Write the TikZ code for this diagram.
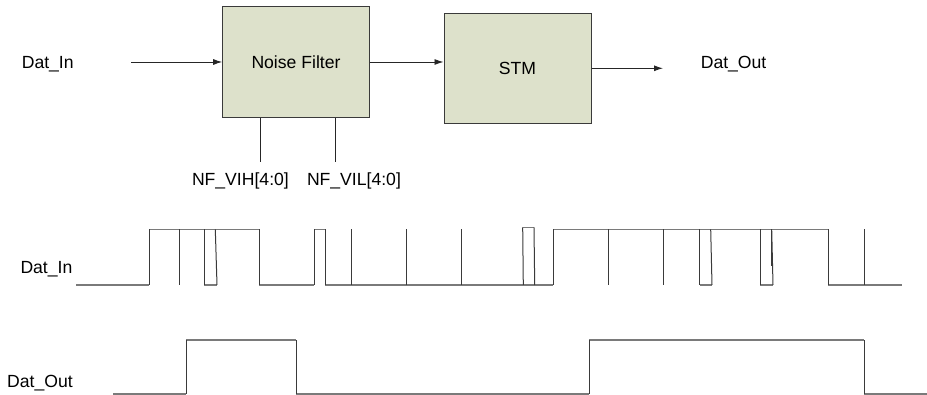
\documentclass[tikz,border=0pt]{standalone}
\usepackage{fontspec}
\setmainfont{Liberation Sans}
\usetikzlibrary{arrows.meta}
\definecolor{boxfill}{HTML}{DDE1CB}
\definecolor{boxline}{HTML}{3A3A3A}
\definecolor{wavegray}{HTML}{7A7A7A}
\definecolor{wavedark}{HTML}{3A3A3A}
\begin{document}
\begin{tikzpicture}[x=1pt,y=-1pt,
  blockbox/.style={draw=boxline,fill=boxfill,line width=1pt,inner sep=0pt,
    font=\fontsize{17.6}{20}\selectfont},
  lbl/.style={inner sep=0pt,font=\fontsize{17.6}{20}\selectfont},
  conn/.style={draw=black!85,line width=0.9pt},
  arr/.style={conn,-{Latex[length=9pt,width=6pt]}},
  hwave/.style={draw=wavegray,line width=1.4pt},
  vwave/.style={draw=wavedark,line width=1pt}]
\useasboundingbox (0,0) rectangle (927,395);

% blocks
\node[blockbox,minimum width=146.6pt,minimum height=110.6pt] (nf) at (296,62) {Noise Filter};
\node[blockbox,minimum width=147pt,minimum height=110pt] (stm) at (517.5,68.3) {STM};

% labels
\node[lbl,anchor=base west] (lin) at (21.6,68.4) {Dat\_In};
\node[lbl,anchor=base west] (lout) at (700.6,68.4) {Dat\_Out};
\node[lbl,anchor=base west] (lvih) at (191.8,185.5) {NF\_VIH[4:0]};
\node[lbl,anchor=base west] (lvil) at (306.8,185.5) {NF\_VIL[4:0]};

% connectors
\coordinate (inbeg) at (131,62);
\coordinate (outend) at (663,68.3);
\coordinate (pina) at (260.7,161.7);
\coordinate (pinb) at (335.7,161.7);
\draw[arr] (inbeg) -- (nf.west);
\draw[arr] (nf.east) -- (nf.east -| stm.west);
\draw[arr] (stm.east) -- (outend);
\draw[conn] (nf.south -| pina) -- (pina);
\draw[conn] (nf.south -| pinb) -- (pinb);

% waveform labels
\node[lbl,anchor=base west] (win) at (20.3,273.4) {Dat\_In};
\node[lbl,anchor=base west] (wout) at (7,387.4) {Dat\_Out};

% Dat_In waveform
\def\L{285}\def\H{229.3}
\draw[hwave] (76,\L) -- (149.3,\L);
\draw[hwave] (149.3,\H) -- (259.3,\H);
\draw[hwave] (259.3,\L) -- (314.3,\L);
\draw[hwave] (314.3,\H) -- (325.3,\H);
\draw[hwave] (325.3,\L) -- (553,\L);
\draw[hwave] (553,\H) -- (828,\H);
\draw[hwave] (828,\L) -- (901.7,\L);
\draw[hwave] (204.3,\L) -- (217,\L);
\draw[hwave] (699.7,\L) -- (712,\L);
\draw[hwave] (760.3,\L) -- (773,\L);
\draw[hwave] (522.7,227.3) -- (534,227.3);
\foreach \x in {149.3,259.3,314.3,325.3,553,828,179,351.5,406.3,461,608,663.3,864.3,204.3,699.7,760.3}
  \draw[vwave] (\x,\L) -- (\x,\H);
\draw[vwave] (217,\L) -- (215.3,\H);
\draw[vwave] (712,\L) -- (710.7,\H);
\draw[vwave] (773,\L) -- (771.7,\H);
\draw[vwave] (771,\H) -- (771,266);
\draw[vwave] (523.3,\L) -- (522.7,227.3);
\draw[vwave] (534.7,\L) -- (534,227.3);

% Dat_Out waveform
\draw[hwave] (113.3,394) -- (186,394) (186,340) -- (296.3,340)
  (296.3,394) -- (589.3,394) (589.3,340) -- (864.3,340) (864.3,394) -- (926.7,394);
\foreach \x in {186,296.3,589.3,864.3}
  \draw[vwave] (\x,394) -- (\x,340);
\end{tikzpicture}
\end{document}
